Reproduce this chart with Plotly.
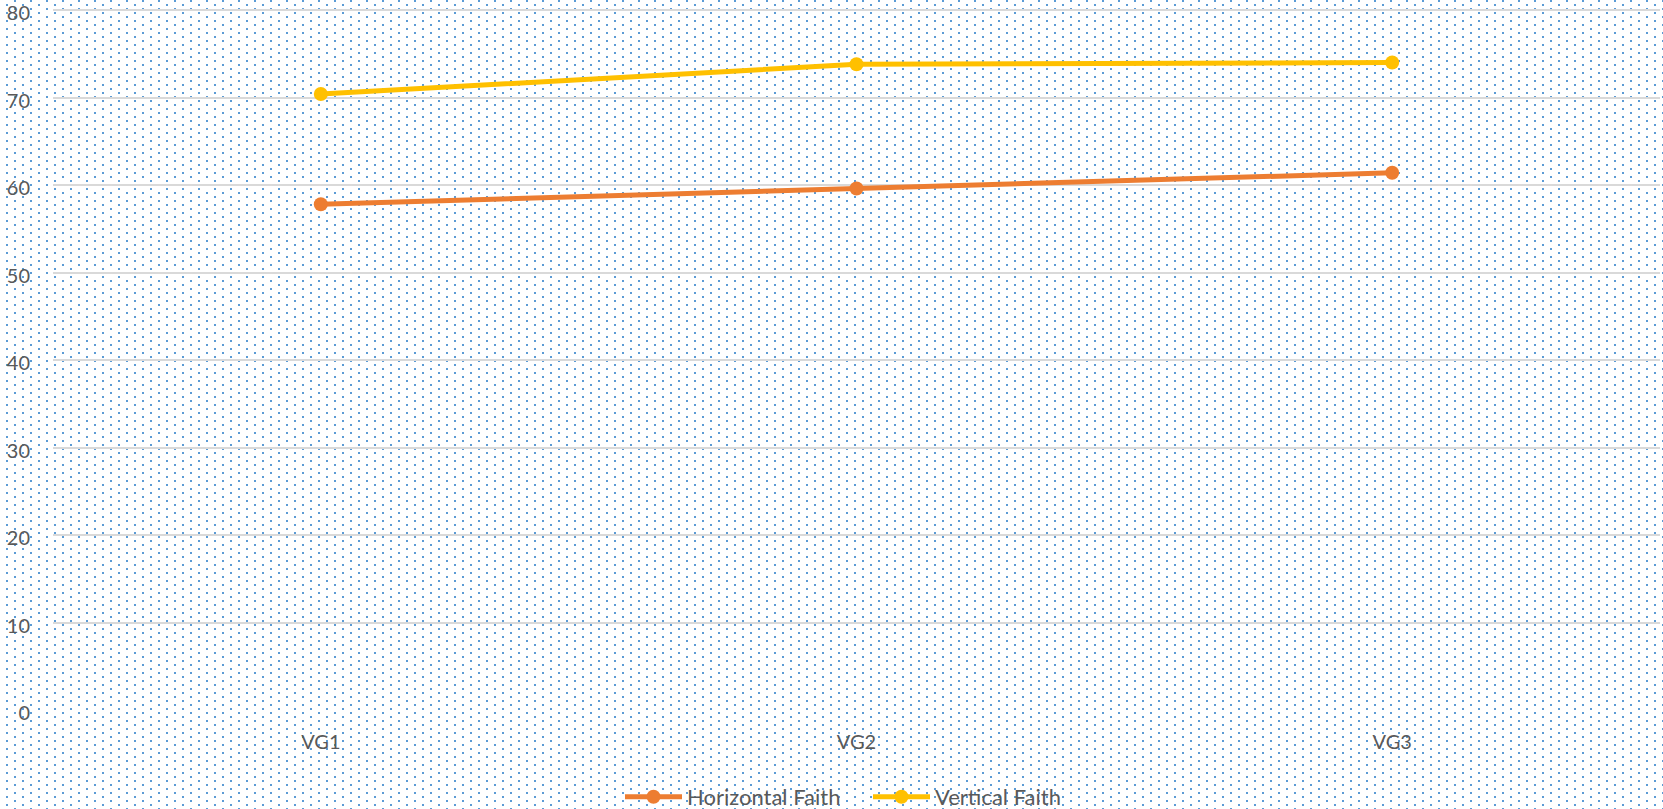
import base64
import plotly.graph_objects as go

# data
groups = ['VG1', 'VG2', 'VG3']
horizontal_faith = [57.8, 59.6, 61.4]
vertical_faith = [70.4, 73.8, 74.0]
y_ticks = [0, 10, 20, 30, 40, 50, 60, 70, 80]

W, H = 1663, 809
L, R, T, B = 53, 3, 9, 99

# dotted background (Excel-style pattern fill) as an inline svg
svg = f"""<svg xmlns="http://www.w3.org/2000/svg" width="{W}" height="{H}" shape-rendering="crispEdges">
<defs><pattern id="p" width="16" height="8" patternUnits="userSpaceOnUse">
<rect x="14" y="0" width="2" height="2" fill="#5B9BD5"/>
<rect x="6" y="4" width="2" height="2" fill="#5B9BD5"/>
</pattern></defs>
<rect width="{W}" height="{H}" fill="white"/>
<rect width="{W}" height="{H}" fill="url(#p)"/>
</svg>"""
bg_src = 'data:image/svg+xml;base64,' + base64.b64encode(svg.encode()).decode()

fig = go.Figure()
fig.add_trace(go.Scatter(
    x=groups, y=horizontal_faith, name='Horizontal Faith',
    mode='lines+markers',
    line=dict(color='#ED7D31', width=5),
    marker=dict(color='#ED7D31', size=14),
))
fig.add_trace(go.Scatter(
    x=groups, y=vertical_faith, name='Vertical Faith',
    mode='lines+markers',
    line=dict(color='#FFC000', width=5),
    marker=dict(color='#FFC000', size=14),
))

pw, ph = W - L - R, H - T - B
fig.add_layout_image(
    source=bg_src, xref='paper', yref='paper',
    x=-L / pw, y=1 + T / ph, sizex=W / pw, sizey=H / ph,
    xanchor='left', yanchor='top', sizing='stretch', layer='below',
)

fig.update_layout(
    width=W, height=H,
    margin=dict(l=L, r=R, t=T, b=B, autoexpand=False),
    paper_bgcolor='white',
    plot_bgcolor='rgba(0,0,0,0)',
    font=dict(family='Lato, Carlito, Calibri, sans-serif', size=20, color='#595959'),
    showlegend=True,
    legend=dict(orientation='h', xref='container', x=620 / W, xanchor='left',
                yref='container', y=12 / H, yanchor='middle',
                bgcolor='rgba(0,0,0,0)', itemwidth=57, font=dict(size=22),
                entrywidth=176, entrywidthmode='pixels'),
    xaxis=dict(range=[-0.5, 2.5], showgrid=False, zeroline=False, showline=False,
               ticks='', ticklabelstandoff=18, automargin=False),
    # top slightly past 80 so the 80 gridline is not clipped at the edge
    yaxis=dict(range=[0, 80.12], tickvals=y_ticks, showgrid=True, gridcolor='#D9D9D9',
               gridwidth=2, zeroline=False, showline=False, ticks='',
               ticklabelstandoff=22, ticklabelshift=3, ticklabeloverflow='allow',
               automargin=False),
)

fig.write_html('out.html', config={'displayModeBar': False},
               post_script="document.body.style.margin='0';")
